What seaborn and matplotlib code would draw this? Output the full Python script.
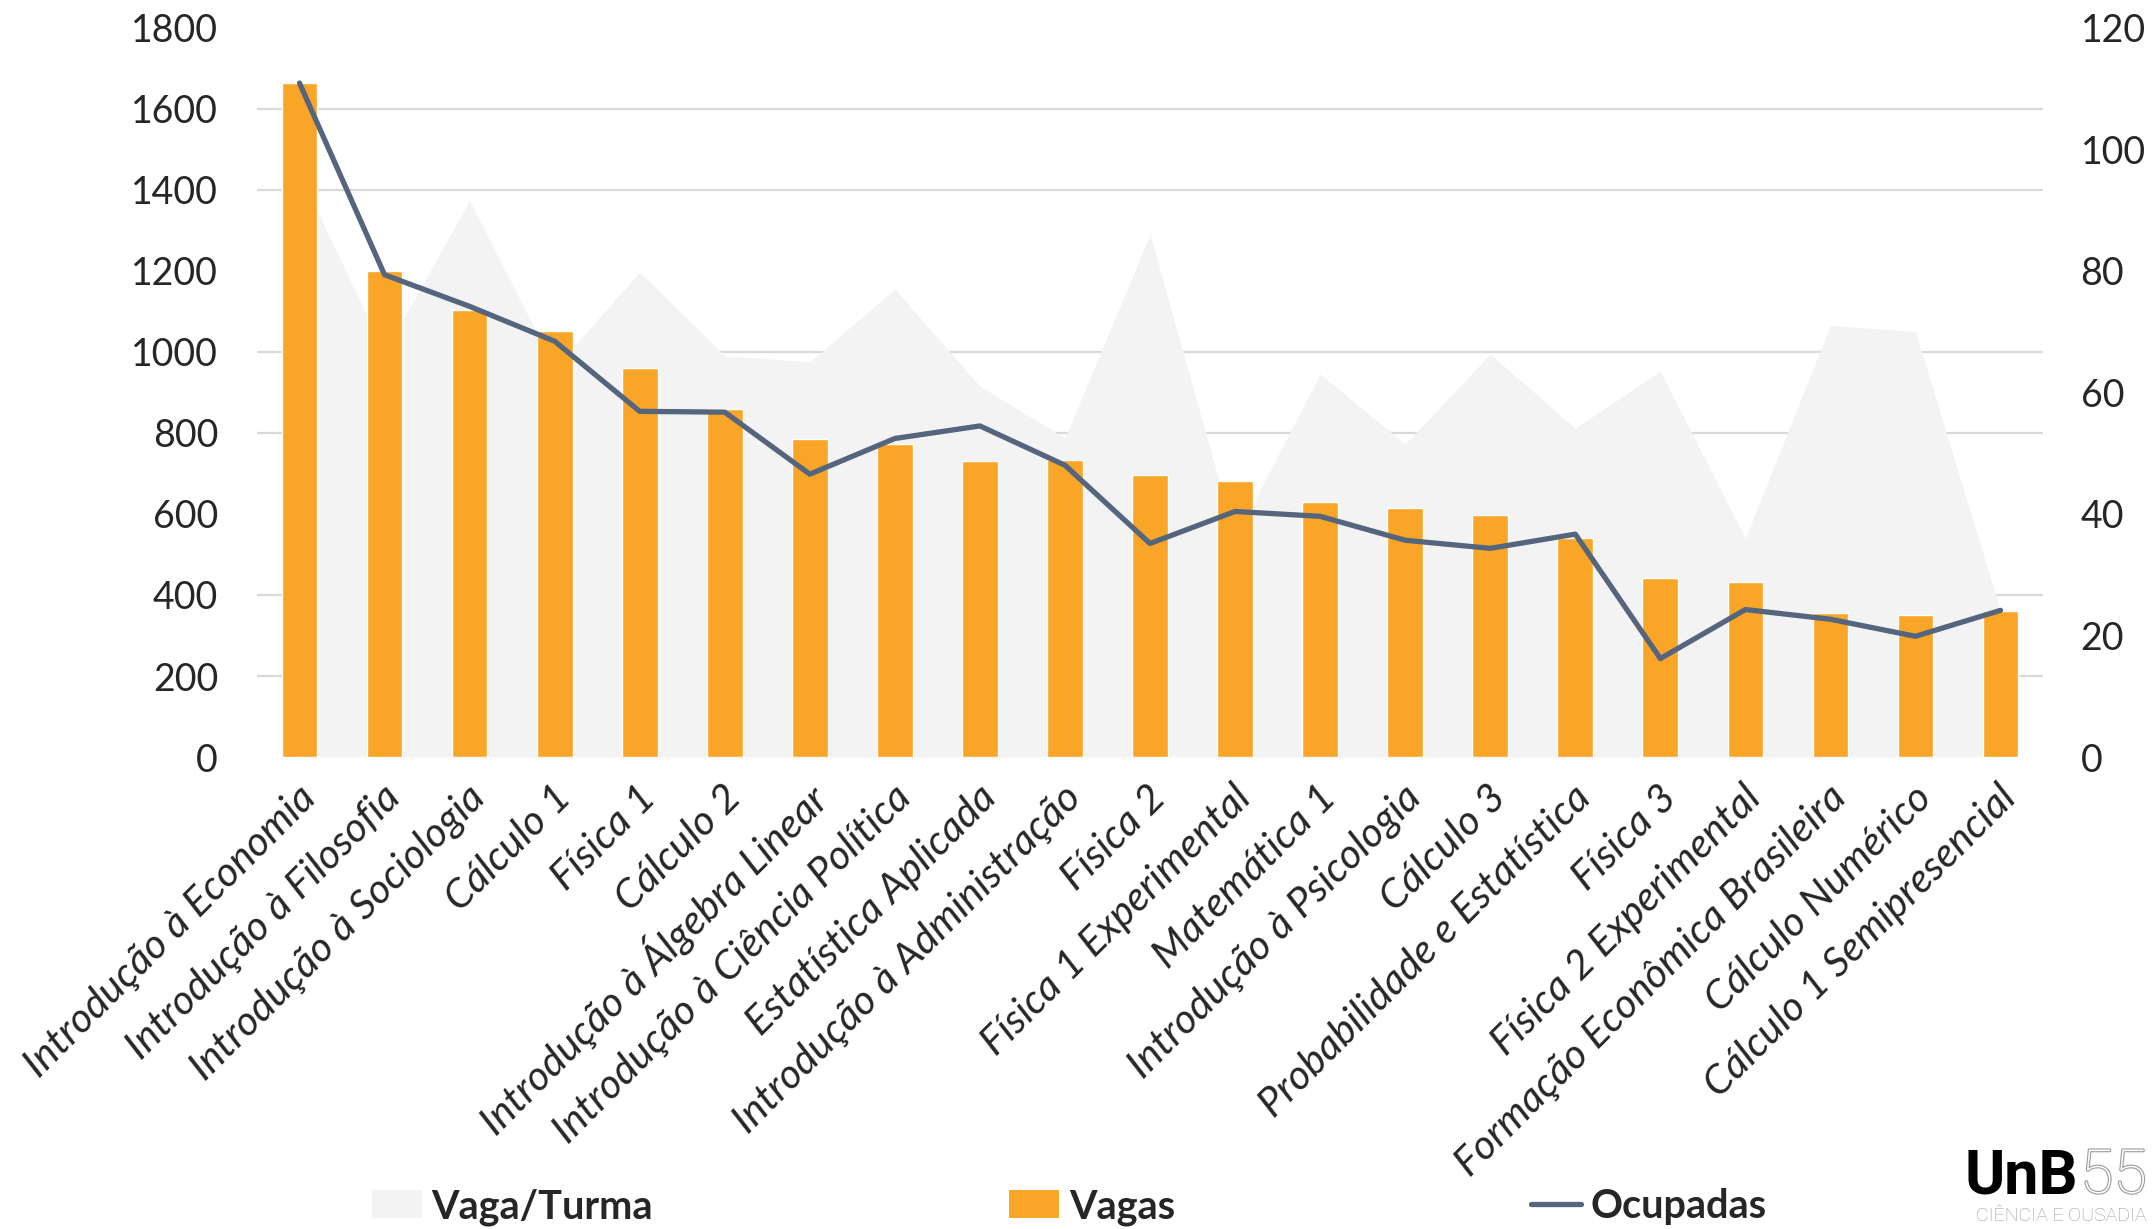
import numpy as np
import pandas as pd
import matplotlib
matplotlib.use("Agg")
import matplotlib.pyplot as plt
import seaborn as sns
from matplotlib.patches import Patch
from matplotlib.lines import Line2D
from matplotlib.transforms import ScaledTranslation
import matplotlib.patheffects as pe

# ---------------- data ----------------
disciplinas = [
    "Introdução à Economia", "Introdução à Filosofia", "Introdução à Sociologia",
    "Cálculo 1", "Física 1", "Cálculo 2", "Introdução à Álgebra Linear",
    "Introdução à Ciência Política", "Estatística Aplicada",
    "Introdução à Administração", "Física 2", "Física 1 Experimental",
    "Matemática 1", "Introdução à Psicologia", "Cálculo 3",
    "Probabilidade e Estatística", "Física 3", "Física 2 Experimental",
    "Formação Econômica Brasileira", "Cálculo Numérico", "Cálculo 1 Semipresencial",
]
vagas = [1663, 1200, 1102, 1051, 959, 860, 784, 773, 730, 732, 696, 682,
         629, 615, 597, 540, 443, 432, 355, 350, 361]
ocupadas = [1663, 1190, 1112, 1026, 853, 851, 698, 786, 817, 720, 527, 606,
            594, 535, 515, 550, 243, 364, 340, 298, 362]
vaga_turma = [96, 66.5, 91.6, 64, 79.8, 66, 65, 77, 61, 52.5, 86, 36,
              63, 51.5, 66.3, 54.1, 63.5, 36, 71, 70, 24]
ticks_left = [0, 200, 400, 600, 800, 1000, 1200, 1400, 1600, 1800]
ticks_right = [0, 20, 40, 60, 80, 100, 120]

BAR = "#F9A528"
LINE = "#54657D"
AREA = "#F3F3F3"
GRID = "#D9D9D9"

sns.set_theme(style="white")
plt.rcParams["font.family"] = ["Lato", "DejaVu Sans"]

fig = plt.figure(figsize=(21.54, 12.29), dpi=100)
ax = fig.add_axes([0.1193, 0.384, 0.8292, 0.5936])

df = pd.DataFrame({"Disciplina": disciplinas, "Vagas": vagas, "Ocupadas": ocupadas})
x = np.arange(len(disciplinas))

sns.barplot(data=df, x="Disciplina", y="Vagas", color=BAR, saturation=1,
            width=0.42, ax=ax, zorder=3)
sns.lineplot(x=x, y=ocupadas, color=LINE, lw=3.8, ax=ax, zorder=4)

ax2 = ax.twinx()
ax2.fill_between(x, 0, vaga_turma, color=AREA, lw=0, zorder=2)
ax2.set_ylim(0, 120)
ax2.set_yticks(ticks_right)
ax2.set_yticks(np.linspace(0, 120, len(ticks_left)), minor=True)
ax2.grid(False)
ax2.grid(True, which="minor", axis="y", color=GRID, lw=1.6, zorder=0)
ax2.set_axisbelow(True)
ax2.tick_params(axis="y", which="both", length=0, pad=27, labelsize=27)

ax.set_zorder(ax2.get_zorder() + 1)
ax.patch.set_visible(False)

ax.set_xlim(-0.5, len(disciplinas) - 0.5)
ax.set_ylim(0, 1800)
ax.set_yticks(ticks_left)
ax.grid(False)
ax.set_xlabel("")
ax.set_ylabel("")
ax.tick_params(axis="y", length=0, pad=28, labelsize=27)
ax.tick_params(axis="x", length=0, pad=25)
ax.set_xticks(x)
ax.set_xticklabels(disciplinas, rotation=45, ha="right", va="center",
                   rotation_mode="anchor", fontstyle="italic", fontsize=29.5)
offset = ScaledTranslation(10 / 100, 0, fig.dpi_scale_trans)
for lbl in ax.get_xticklabels():
    lbl.set_transform(lbl.get_transform() + offset)

for a in (ax, ax2):
    for s in a.spines.values():
        s.set_visible(False)

handles = [
    Patch(facecolor=AREA, edgecolor="none", label="Vaga/Turma"),
    Patch(facecolor=BAR, edgecolor="none", label="Vagas"),
    Line2D([], [], color=LINE, lw=3.8, label="Ocupadas"),
]
fig.legend(handles=handles, loc="center", bbox_to_anchor=(0.4965, 0.018),
           ncol=3, frameon=False, prop={"weight": "bold", "size": 28.5},
           handlelength=1.25, handletextpad=0.25, columnspacing=9.0)

# logo
fig.text(1964 / 2154, 1 - 1193 / 1229, "UnB", fontsize=44, fontweight="bold",
         family=["Roboto", "DejaVu Sans"], ha="left", va="baseline", color="black")
fig.text(2080 / 2154, 1 - 1193 / 1229, "55", fontsize=44, fontweight="light",
         family=["Roboto", "DejaVu Sans"], ha="left", va="baseline", color="white",
         path_effects=[pe.withStroke(linewidth=1.6, foreground="#9A9A9A")])
fig.text(2146 / 2154, 1 - 1221 / 1229, "CIÊNCIA E OUSADIA", fontsize=14,
         fontweight="light", family=["Roboto", "DejaVu Sans"], ha="right",
         va="baseline", color="#9A9A9A")

fig.savefig("out.png", dpi=100)
